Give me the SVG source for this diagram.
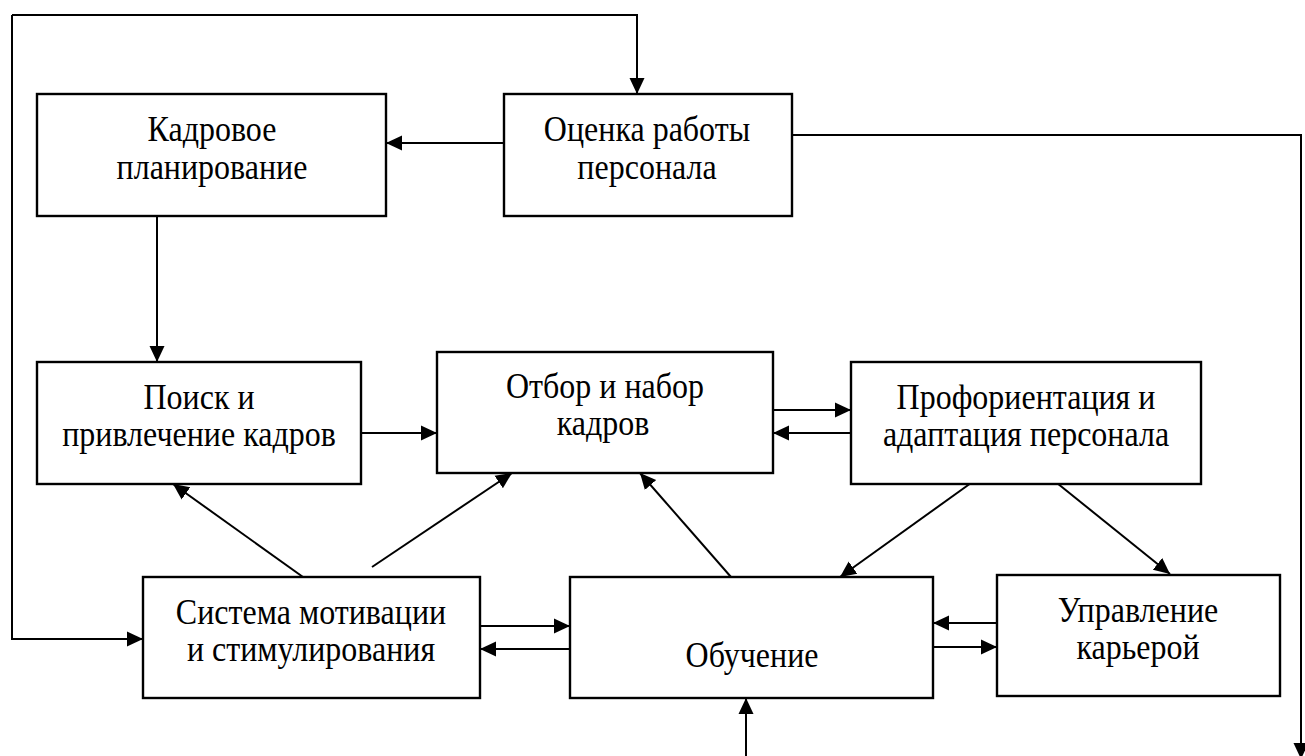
<svg xmlns="http://www.w3.org/2000/svg" width="1305" height="756" viewBox="0 0 1305 756">
<style>
.box{fill:#fff;stroke:#000;stroke-width:2.4}
.t{font-family:"Liberation Serif","Times New Roman",serif;font-size:32px;fill:#000;text-anchor:middle}
.c{fill:none;stroke:#000;stroke-width:2}
.a{marker-end:url(#ah)}
</style>
<defs>
<marker id="ah" markerUnits="userSpaceOnUse" markerWidth="17" markerHeight="17" viewBox="0 0 17 17" refX="16" refY="8.5" orient="auto">
<path d="M0,1 L16,8.5 L0,16 Z" fill="#000"/>
</marker>
</defs>
<rect width="1305" height="756" fill="#fff"/>
<g id="connectors">
<path class="c a" d="M12,15 H637 V94"/>
<path class="c a" d="M12,15 V639 H143"/>
<path class="c a" d="M504,143 H386"/>
<path class="c a" d="M792,135 H1301 V759"/>
<path class="c a" d="M157,216 V362"/>
<path class="c a" d="M361,433 H437"/>
<path class="c a" d="M773,410 H851"/>
<path class="c a" d="M851,433 H773"/>
<path class="c a" d="M971,483 L840,577"/>
<path class="c a" d="M1052,479 L1170,574"/>
<path class="c a" d="M303,577 L173,484"/>
<path class="c a" d="M372,567 L512,473"/>
<path class="c a" d="M731,577 L640,473"/>
<path class="c a" d="M480,626 H570"/>
<path class="c a" d="M570,649 H480"/>
<path class="c a" d="M997,623 H933"/>
<path class="c a" d="M933,647 H997"/>
<path class="c a" d="M746,760 V698"/>
</g>
<g id="kadrovoe">
<rect class="box" x="37" y="94" width="349" height="122"/>
<text class="t" transform="translate(212,141) scale(1,1.12)">Кадровое</text>
<text class="t" transform="translate(212,179) scale(1,1.12)">планирование</text>
</g>
<g id="ocenka">
<rect class="box" x="504" y="94" width="288" height="122"/>
<text class="t" transform="translate(647,141) scale(1,1.12)">Оценка работы</text>
<text class="t" transform="translate(647,179) scale(1,1.12)">персонала</text>
</g>
<g id="poisk">
<rect class="box" x="37" y="362" width="324" height="122"/>
<text class="t" transform="translate(199,409) scale(1,1.12)">Поиск и</text>
<text class="t" transform="translate(199,446) scale(1,1.12)">привлечение кадров</text>
</g>
<g id="otbor">
<rect class="box" x="437" y="352" width="336" height="121"/>
<text class="t" transform="translate(605,398) scale(1,1.12)">Отбор и набор</text>
<text class="t" transform="translate(603,435) scale(1,1.12)">кадров</text>
</g>
<g id="proforientaciya">
<rect class="box" x="851" y="362" width="350" height="122"/>
<text class="t" transform="translate(1026,409) scale(1,1.12)">Профориентация и</text>
<text class="t" transform="translate(1026,446) scale(1,1.12)">адаптация персонала</text>
</g>
<g id="sistema">
<rect class="box" x="143" y="577" width="337" height="121"/>
<text class="t" transform="translate(311,624) scale(1,1.12)">Система мотивации</text>
<text class="t" transform="translate(311,661) scale(1,1.12)">и стимулирования</text>
</g>
<g id="obuchenie">
<rect class="box" x="570" y="577" width="363" height="121"/>
<text class="t" transform="translate(752,667) scale(1,1.12)">Обучение</text>
</g>
<g id="upravlenie">
<rect class="box" x="997" y="575" width="283" height="121"/>
<text class="t" transform="translate(1138,622) scale(1,1.12)">Управление</text>
<text class="t" transform="translate(1138,659) scale(1,1.12)">карьерой</text>
</g>
</svg>
